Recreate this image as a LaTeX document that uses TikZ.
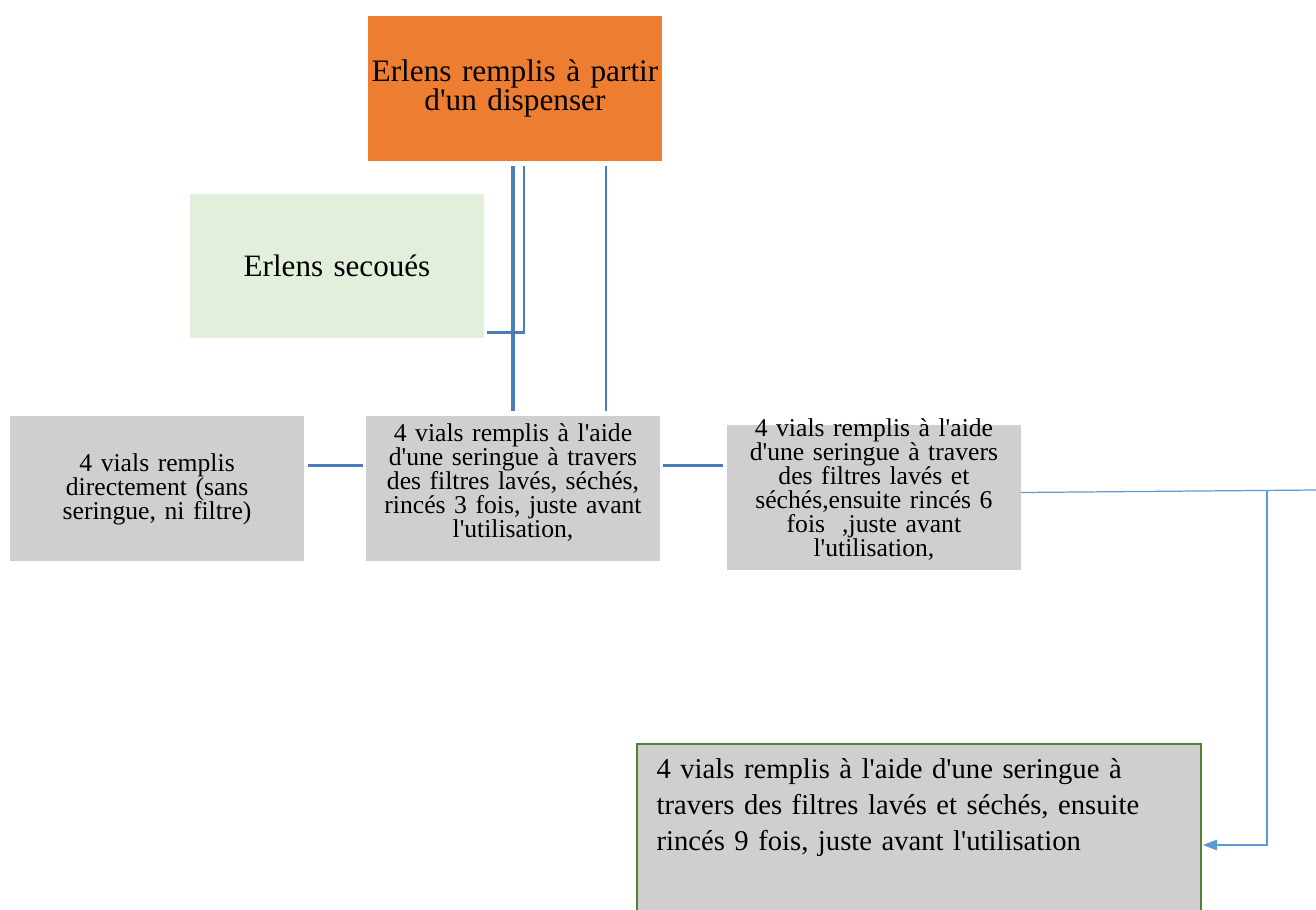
\documentclass[tikz,border=0pt]{standalone}
\usepackage{fontspec}
\setmainfont{Liberation Serif}
\usepackage{tikz}
\usetikzlibrary{arrows.meta, positioning, calc}

\definecolor{orangebox}{HTML}{ED7D31}
\definecolor{greenbox}{HTML}{E2EFDA}
\definecolor{greybox}{HTML}{D0CECE}
\definecolor{linkblue}{HTML}{4A7EBB}
\definecolor{lightblue}{HTML}{5B9BD5}
\definecolor{darkgreen}{HTML}{548235}
\newcommand{\ap}{\textquotesingle}

\begin{document}
\begin{tikzpicture}[
    x=0.02cm, y=-0.02cm,
    node distance=1.24cm and 1.24cm,
    box/.style={rectangle, inner sep=0pt, outer sep=0pt, minimum width=5.88cm,
      minimum height=2.9cm, align=center, text width=5.88cm},
    vialbox/.style={box, fill=greybox, font=\fontsize{14.6}{13.7}\selectfont,
      execute at begin node={\lineskiplimit=-20pt\relax}},
    link/.style={draw=linkblue, line width=1.2pt},
    thicklink/.style={draw=linkblue, line width=2.4pt},
    feed/.style={draw=lightblue, line width=0.7pt},
    arrow/.style={feed, -{Triangle[length=8pt, width=6pt]}}
]
\useasboundingbox (0,0) rectangle (1316,910);

\node[box, fill=orangebox, font=\fontsize{17.8}{17}\selectfont] (dispenser) at (515,88.5)
  {Erlens remplis à partir\\d\ap un dispenser};
\node[box, fill=greenbox, font=\fontsize{17.7}{17}\selectfont] (shaken) at (337,266)
  {Erlens secoués};
\node[vialbox, text height=0.5cm, text depth=2.4cm] (rinse3) at (513,488.5)
  {4 vials remplis à l\ap aide\\d\ap une seringue à travers\\des filtres lavés, séchés,\\rincés 3 fois, juste avant\\l\ap utilisation,};
\node[vialbox, left=of rinse3, text height=1.1cm, text depth=1.8cm] (direct)
  {4 vials remplis\\directement (sans\\seringue, ni filtre)};
\node[vialbox, right=1.34cm of rinse3, yshift=-0.18cm, text height=0.22cm, text depth=2.68cm] (rinse6)
  {4 vials remplis à l\ap aide\\d\ap une seringue à travers\\des filtres lavés et\\séchés,ensuite rincés 6\\fois~ ,juste avant\\l\ap utilisation,};
\node[box, fill=greybox, draw=darkgreen, line width=1.1pt, minimum width=11.28cm,
  minimum height=3.36cm, text width=10.5cm, align=left,
  font=\fontsize{16.3}{20.5}\selectfont] (rinse9) at (919,828)
  {4 vials remplis à l\ap aide d\ap une seringue à\\travers des filtres lavés et séchés, ensuite\\rincés 9 fois, juste avant l\ap utilisation\\\strut};

% connectors
\coordinate (drop) at ($(rinse3.north)+(93,0)$);
\coordinate (elbow) at ($(shaken.south east)+(3,-6)$);
\coordinate (leftjoin) at ($(rinse3.west)+(0,-23)$);
\coordinate (rightjoin) at ($(rinse3.east)+(0,-23)$);
\coordinate (offright) at (1316,490);
\coordinate (split) at (1267,491);

\draw[thicklink, shorten <=3pt, shorten >=3pt] (rinse3.north |- dispenser.south) -- (rinse3.north);
\draw[link, shorten <=3pt] ($(dispenser.south)+(9,0)$) |- (elbow);
\draw[link, shorten <=3pt, shorten >=3pt] (drop |- dispenser.south) -- (drop);
\draw[link, shorten <=2pt, shorten >=2pt] (leftjoin -| direct.east) -- (leftjoin);
\draw[link, shorten <=2pt, shorten >=2pt] (rightjoin) -- (rightjoin -| rinse6.west);
\draw[feed] ($(rinse6.east)+(0,-5)$) -- (offright);
\draw[arrow] (split) |- ($(rinse9.east)+(2,17)$);
\end{tikzpicture}
\end{document}
